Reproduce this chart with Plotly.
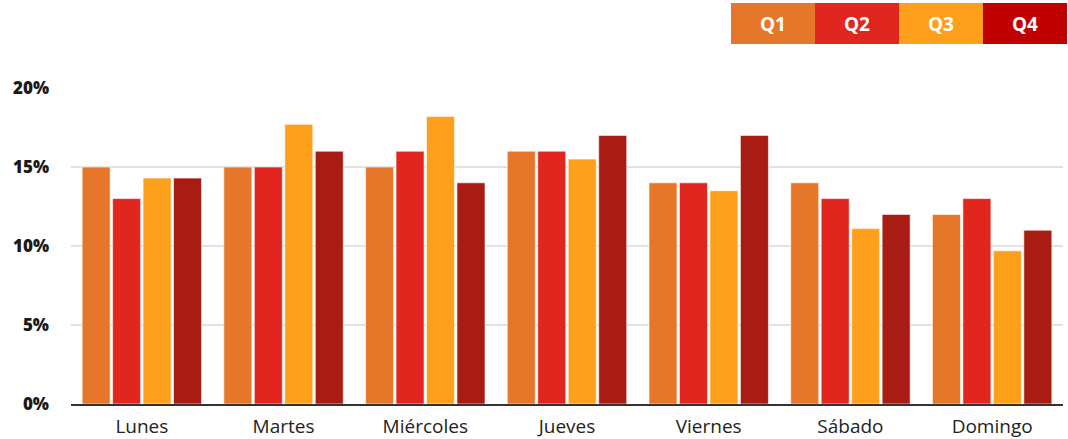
import plotly.graph_objects as go

days = ["Lunes", "Martes", "Miércoles", "Jueves", "Viernes", "Sábado", "Domingo"]
q1 = [15.0, 15.0, 15.0, 16.0, 14.0, 14.0, 12.0]
q2 = [13.0, 15.0, 16.0, 16.0, 14.0, 13.0, 13.0]
q3 = [14.3, 17.7, 18.2, 15.5, 13.5, 11.1, 9.7]
q4 = [14.3, 16.0, 14.0, 17.0, 17.0, 12.0, 11.0]
series_names = ["Q1", "Q2", "Q3", "Q4"]
bar_colors = ["#E6772A", "#E0261E", "#FFA01C", "#A81C14"]
legend_colors = ["#E6772A", "#E0261E", "#FFA01C", "#C00000"]
y_ticks = [0, 5, 10, 15, 20]
y_tick_text = ["0%", "5%", "10%", "15%", "20%"]

fig = go.Figure()
for name, vals, col in zip(series_names, [q1, q2, q3, q4], bar_colors):
    fig.add_trace(go.Bar(
        x=days, y=vals, name=name,
        marker=dict(color=col, line=dict(color="rgba(255,255,255,0.6)", width=1)),
        hovertemplate="%{x}: %{y}%<extra>" + name + "</extra>",
    ))

W, H = 1068, 439
L, R, T, B = 71, 5, 88, 35
pw, ph = W - L - R, H - T - B

def px_x(x):
    return (x - L) / pw

def px_y(y):
    return (H - B - y) / ph

shapes = []
annotations = []
box_left = 731
box_w = 84
for i, (name, col) in enumerate(zip(series_names, legend_colors)):
    x0 = box_left + i * box_w
    x1 = x0 + box_w
    shapes.append(dict(type="rect", xref="paper", yref="paper",
                       x0=px_x(x0), x1=px_x(x1), y0=px_y(44), y1=px_y(3),
                       fillcolor=col, line=dict(width=0), layer="above"))
    annotations.append(dict(xref="paper", yref="paper",
                            x=px_x((x0 + x1) / 2), y=px_y(24),
                            text="<b>" + name + "</b>", showarrow=False,
                            font=dict(family="Open Sans, sans-serif", size=19,
                                      color="white", weight=800),
                            xanchor="center", yanchor="middle"))

fig.update_layout(
    width=W, height=H,
    margin=dict(l=L, r=R, t=T, b=B),
    barmode="group", bargap=0.14, bargroupgap=0.08,
    plot_bgcolor="white", paper_bgcolor="white",
    showlegend=False,
    shapes=shapes, annotations=annotations,
    font=dict(family="Open Sans, sans-serif", color="#222222"),
    xaxis=dict(showgrid=False, showline=True, linecolor="#333333", linewidth=2,
               ticks="", ticklabelstandoff=4, automargin=False,
               tickfont=dict(size=19, color="#222222", family="Open Sans, sans-serif")),
    yaxis=dict(range=[0, 20], tickvals=y_ticks, ticktext=y_tick_text,
               showgrid=True, gridcolor="#E2E2E2", gridwidth=2,
               zeroline=False, showline=False, ticks="", automargin=False,
               ticklabelstandoff=21,
               tickfont=dict(size=17, color="#1a1a1a",
                             family="Open Sans, sans-serif", weight=800)),
)

fig.write_html("out.html")
